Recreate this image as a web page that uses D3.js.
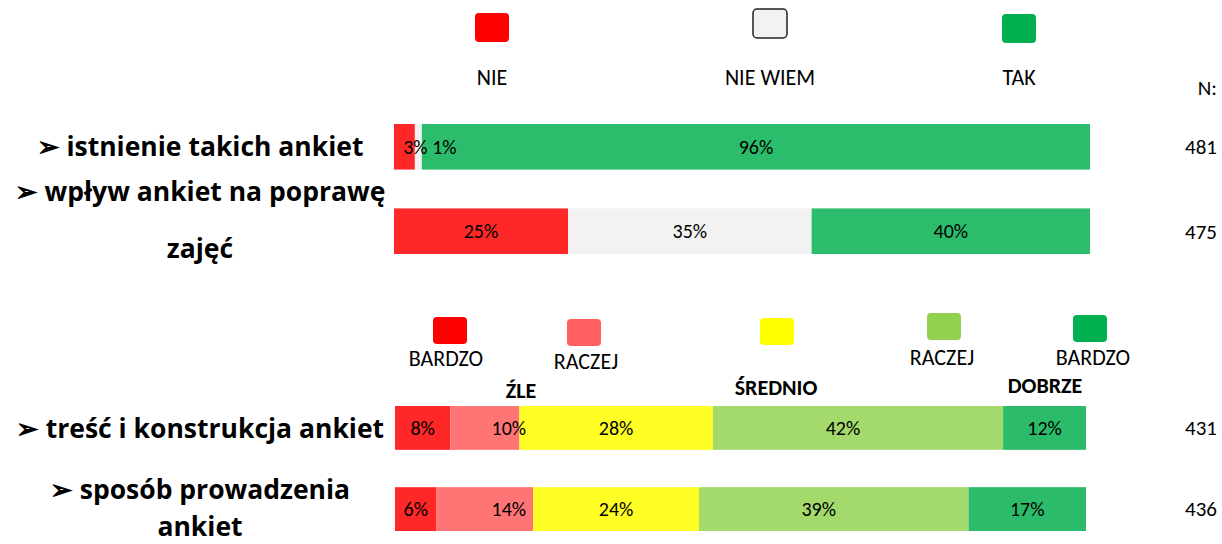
<!DOCTYPE html>
<html>
<head>
<meta charset="utf-8">
<script src="https://cdn.jsdelivr.net/npm/d3@7"></script>
<style>
  body { margin: 0; background: #fff; }
  text { font-family: Carlito, Lato, "Open Sans", sans-serif; fill: #000; }
  text.cat { font-family: "Open Sans", Lato, sans-serif; font-weight: bold; }
</style>
</head>
<body>
<div id="chart"></div>
<script>
// data
var topCategories = ["istnienie takich ankiet", "wpływ ankiet na poprawę zajęć"];
var topSeries = ["NIE", "NIE WIEM", "TAK"];
var topValues = [[3, 1, 96], [25, 35, 40]];
var topN = [481, 475];

var bottomCategories = ["treść i konstrukcja ankiet", "sposób prowadzenia ankiet"];
var bottomSeries = ["BARDZO ŹLE", "RACZEJ ŹLE", "ŚREDNIO", "RACZEJ DOBRZE", "BARDZO DOBRZE"];
var bottomValues = [[8, 10, 28, 42, 12], [6, 14, 24, 39, 17]];
var bottomN = [431, 436];

// how the left labels wrap, with line offsets from the bar middle
var labelLines = {
  "istnienie takich ankiet": [["➢ istnienie takich ankiet", 0]],
  "wpływ ankiet na poprawę zajęć": [["➢ wpływ ankiet na poprawę", -39], ["zajęć", 18]],
  "treść i konstrukcja ankiet": [["➢ treść i konstrukcja ankiet", 1]],
  "sposób prowadzenia ankiet": [["➢ sposób prowadzenia", -19], ["ankiet", 18]]
};

var width = 1222, height = 544;

var svg = d3.select("#chart").append("svg")
    .attr("width", width)
    .attr("height", height);

// colours
var topBarColor = d3.scaleOrdinal().domain(topSeries).range(["#FF2828", "#F2F2F2", "#2BBD6B"]);
var topKeyColor = d3.scaleOrdinal().domain(topSeries).range(["#FF0000", "#F2F2F2", "#00B050"]);
var botBarColor = d3.scaleOrdinal().domain(bottomSeries).range(["#FF2828", "#FF7575", "#FFFF25", "#A4DA6C", "#2BBB6B"]);
var botKeyColor = d3.scaleOrdinal().domain(bottomSeries).range(["#FF0000", "#FF5F5F", "#FFFF00", "#92D050", "#00B050"]);

// label nudges (Excel moved a few labels by hand)
var topShift = [[11, 26, 0], [0, 0, 0]];
var botShift = [24, -15];

function drawGroup(cats, series, values, nList, xRange, yRange, color, shiftFn) {
  var x = d3.scaleLinear().domain([0, 100]).range(xRange);
  var y = d3.scaleBand().domain(cats).range(yRange).paddingInner(0.46);

  cats.forEach(function(cat, i) {
    var stack = [];
    var acc = 0;
    values[i].forEach(function(v, j) {
      stack.push({key: series[j], x0: acc, x1: acc + v, v: v, j: j});
      acc += v;
    });

    var row = svg.append("g");
    row.selectAll("rect")
      .data(stack)
      .enter()
      .append("rect")
      .attr("x", d => x(d.x0))
      .attr("y", y(cat))
      .attr("width", d => x(d.x1) - x(d.x0))
      .attr("height", y.bandwidth())
      .attr("fill", d => color(d.key));

    row.selectAll("text.val")
      .data(stack)
      .enter()
      .append("text")
      .attr("class", "val")
      .attr("x", d => (x(d.x0) + x(d.x1)) / 2 + shiftFn(i, d.j))
      .attr("y", y(cat) + y.bandwidth() / 2)
      .attr("dy", "0.35em")
      .attr("text-anchor", "middle")
      .style("font-size", "20px")
      .text(d => d.v + "%");

    // category label on the left
    var mid = y(cat) + y.bandwidth() / 2;
    labelLines[cat].forEach(function(line) {
      svg.append("text")
        .attr("class", "cat")
        .attr("x", 200)
        .attr("y", mid + line[1])
        .attr("dy", "0.35em")
        .attr("text-anchor", "middle")
        .style("font-size", "26.5px")
        .text(line[0]);
    });

    // N count
    svg.append("text")
      .attr("x", 1217)
      .attr("y", mid)
      .attr("dy", "0.35em")
      .attr("text-anchor", "end")
      .style("font-size", "21px")
      .text(nList[i]);
  });
}

drawGroup(topCategories, topSeries, topValues, topN, [394, 1090], [124, 254], topBarColor,
  function(i, j) { return topShift[i][j]; });
drawGroup(bottomCategories, bottomSeries, bottomValues, bottomN, [395, 1086], [406, 531], botBarColor,
  function(i, j) { return j === 1 ? botShift[0] : (j === 3 ? botShift[1] : 0); });

// N: header
svg.append("text")
  .attr("x", 1217).attr("y", 88).attr("dy", "0.35em")
  .attr("text-anchor", "end")
  .style("font-size", "21px")
  .text("N:");

// top legend
var topKeyX = [492, 770, 1019];
var topKeyY = [13, 9, 14];
topSeries.forEach(function(s, i) {
  svg.append("rect")
    .attr("x", topKeyX[i] - 17).attr("y", topKeyY[i])
    .attr("width", 34).attr("height", 29)
    .attr("rx", 4)
    .attr("fill", topKeyColor(s))
    .attr("stroke", s === "NIE WIEM" ? "#222" : "none")
    .attr("stroke-width", 1.5);
  svg.append("text")
    .attr("x", topKeyX[i]).attr("y", 77).attr("dy", "0.35em")
    .attr("text-anchor", "middle")
    .style("font-size", "22px")
    .text(s);
});

// bottom legend
var botKeyX = [450, 584, 777, 944, 1090];
var botKeyY = [317, 319, 318, 313, 315];
var botKeyText = ["BARDZO", "RACZEJ", "", "RACZEJ", "BARDZO"];
var botTextX = [446, 586, 777, 942, 1093];
var botTextY = [358, 361, 358, 357, 357];
bottomSeries.forEach(function(s, i) {
  svg.append("rect")
    .attr("x", botKeyX[i] - 17).attr("y", botKeyY[i])
    .attr("width", 34).attr("height", 27)
    .attr("rx", 4)
    .attr("fill", botKeyColor(s));
  if (botKeyText[i]) {
    svg.append("text")
      .attr("x", botTextX[i]).attr("y", botTextY[i]).attr("dy", "0.35em")
      .attr("text-anchor", "middle")
      .style("font-size", "22px")
      .text(botKeyText[i]);
  }
});

// bold group words
var groupWords = ["ŹLE", "ŚREDNIO", "DOBRZE"];
var groupX = [521, 776, 1045];
var groupY = [390, 387, 385];
groupWords.forEach(function(w, i) {
  svg.append("text")
    .attr("x", groupX[i]).attr("y", groupY[i]).attr("dy", "0.35em")
    .attr("text-anchor", "middle")
    .style("font-size", "22px")
    .style("font-weight", "bold")
    .text(w);
});
</script>
</body>
</html>
